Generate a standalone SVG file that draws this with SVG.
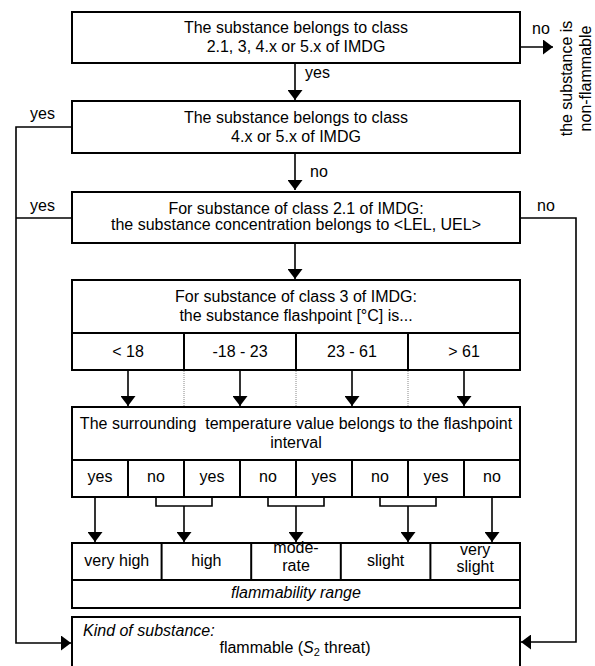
<svg xmlns="http://www.w3.org/2000/svg" width="595" height="666" viewBox="0 0 595 666">
<style>
text{font-family:"Liberation Sans",Arial,sans-serif;font-size:16px;fill:#000}
.c{text-anchor:middle}
.i{font-style:italic}
.box{fill:#fff;stroke:#000;stroke-width:2}
.div{stroke:#000;stroke-width:2;fill:none}
.ln{stroke:#000;stroke-width:1.6;fill:none}
.dot{stroke:#888;stroke-width:1;stroke-dasharray:1,1;fill:none}
</style>
<defs>
<marker id="ah" viewBox="0 0 10 15" refX="10" refY="7.5" markerWidth="10" markerHeight="15" markerUnits="userSpaceOnUse" orient="auto">
<path d="M0,0 L10,7.5 L0,15 z" fill="#000"/>
</marker>
</defs>
<rect width="595" height="666" fill="#fff"/>

<g id="connectors">
<path class="ln" d="M295,63 V100" marker-end="url(#ah)"/>
<path class="ln" d="M295,153 V190" marker-end="url(#ah)"/>
<path class="ln" d="M295,243 V279" marker-end="url(#ah)"/>
<path class="ln" d="M520,47 H553" marker-end="url(#ah)"/>
<path class="ln" d="M128,370 V406" marker-end="url(#ah)"/>
<path class="ln" d="M240,370 V406" marker-end="url(#ah)"/>
<path class="ln" d="M352,370 V406" marker-end="url(#ah)"/>
<path class="ln" d="M464,370 V406" marker-end="url(#ah)"/>
<path class="dot" d="M184,371 V406 M296,371 V406 M408,371 V406"/>
<path class="ln" d="M95,497 V542" marker-end="url(#ah)"/>
<path class="ln" d="M156,497 V506 H212 V497"/>
<path class="ln" d="M184,506 V542" marker-end="url(#ah)"/>
<path class="ln" d="M268,497 V506 H324 V497"/>
<path class="ln" d="M296,506 V542" marker-end="url(#ah)"/>
<path class="ln" d="M380,497 V506 H436 V497"/>
<path class="ln" d="M408,506 V542" marker-end="url(#ah)"/>
<path class="ln" d="M492,497 V542" marker-end="url(#ah)"/>
<path class="ln" d="M72,127 H16 V643 H71" marker-end="url(#ah)"/>
<path class="ln" d="M72,218 H16"/>
<path class="ln" d="M520,218 H576 V642 H521" marker-end="url(#ah)"/>
<text x="305" y="78">yes</text>
<text x="310" y="177">no</text>
<text x="532" y="34">no</text>
<text x="30" y="119">yes</text>
<text x="30" y="211">yes</text>
<text x="537" y="211">no</text>
</g>

<g id="nonflammable">
<text class="c" transform="translate(572,78.5) rotate(-90)">the substance is</text>
<text class="c" transform="translate(591,78.5) rotate(-90)">non-flammable</text>
</g>

<g id="box1">
<rect class="box" x="72" y="12" width="448" height="51"/>
<text class="c" x="296" y="33">The substance belongs to class</text>
<text class="c" x="296" y="52">2.1, 3, 4.x or 5.x of IMDG</text>
</g>

<g id="box2">
<rect class="box" x="72" y="101" width="448" height="52"/>
<text class="c" x="296" y="123">The substance belongs to class</text>
<text class="c" x="296" y="142">4.x or 5.x of IMDG</text>
</g>

<g id="box3">
<rect class="box" x="72" y="192" width="448" height="51"/>
<text class="c" x="296" y="214">For substance of class 2.1 of IMDG:</text>
<text class="c" x="296" y="230">the substance concentration belongs to &lt;LEL, UEL&gt;</text>
</g>

<g id="box4">
<rect class="box" x="72" y="280" width="448" height="90"/>
<path class="div" d="M72,333 H520 M184,333 V370 M296,333 V370 M408,333 V370"/>
<text class="c" x="296" y="302">For substance of class 3 of IMDG:</text>
<text class="c" x="296" y="321">the substance flashpoint [°C] is...</text>
<text class="c" x="128" y="357">&lt; 18</text>
<text class="c" x="240" y="357">-18 - 23</text>
<text class="c" x="352" y="357">23 - 61</text>
<text class="c" x="464" y="357">&gt; 61</text>
</g>

<g id="box5">
<rect class="box" x="72" y="407" width="448" height="90"/>
<path class="div" d="M72,460 H520 M128,460 V497 M184,460 V497 M240,460 V497 M296,460 V497 M352,460 V497 M408,460 V497 M464,460 V497"/>
<text class="c" x="296" y="429" style="white-space:pre">The surrounding  temperature value belongs to the flashpoint</text>
<text class="c" x="296" y="448">interval</text>
<text class="c" x="100" y="482">yes</text>
<text class="c" x="156" y="482">no</text>
<text class="c" x="212" y="482">yes</text>
<text class="c" x="268" y="482">no</text>
<text class="c" x="324" y="482">yes</text>
<text class="c" x="380" y="482">no</text>
<text class="c" x="436" y="482">yes</text>
<text class="c" x="492" y="482">no</text>
</g>

<g id="box6">
<rect class="box" x="72" y="543" width="448" height="65"/>
<path class="div" d="M72,580 H520 M161.6,543 V580 M251.2,543 V580 M340.8,543 V580 M430.4,543 V580"/>
<text class="c" x="116.8" y="566">very high</text>
<text class="c" x="206.4" y="566">high</text>
<text class="c" x="296" y="553">mode-</text>
<text class="c" x="296" y="571">rate</text>
<text class="c" x="385.6" y="566">slight</text>
<text class="c" x="475.2" y="555">very</text>
<text class="c" x="475.2" y="572">slight</text>
<text class="c i" x="296" y="598">flammability range</text>
</g>

<g id="box7">
<rect class="box" x="72" y="617" width="448" height="52"/>
<text class="i" x="83" y="636">Kind of substance:</text>
<text class="c" x="295" y="653">flammable (<tspan class="i">S</tspan><tspan font-size="11" dy="3">2</tspan><tspan dy="-3"> threat)</tspan></text>
</g>
</svg>
